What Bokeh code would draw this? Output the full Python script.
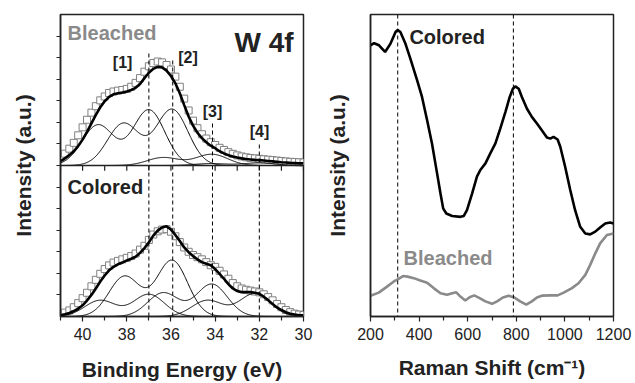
import numpy as np
from bokeh.plotting import figure
from bokeh.layouts import row
from bokeh.models import Range1d, FixedTicker, Label, Span
from bokeh.embed import file_html
from bokeh.resources import INLINE

FONT = "Liberation Sans"
INK = "#222222"
GREY = "#8a8a8a"

# ---------------- W 4f XPS ----------------
# binding energies of the measured points (eV)
energy = np.round(np.arange(41.0, 29.99, -0.2), 1)

bleached_data = [0.38, 0.55, 0.78, 1.05, 1.4, 1.77,
                 2.12, 2.45, 2.75, 3.02, 3.2, 3.36, 3.43, 3.47, 3.5, 3.55,
                 3.65, 3.83, 4.05, 4.35, 4.6, 4.75, 4.82, 4.78, 4.66, 4.45,
                 4.12, 3.65, 3.1, 2.55, 2.08, 1.73, 1.45, 1.25, 1.08, 0.95,
                 0.82, 0.72, 0.62, 0.54, 0.47, 0.42, 0.38, 0.35, 0.33, 0.31,
                 0.29, 0.27, 0.25, 0.23, 0.21, 0.19, 0.17, 0.16, 0.15, 0.14]
bleached_fit = [0.2, 0.33, 0.48, 0.66, 0.9, 1.2,
                1.56, 1.95, 2.35, 2.7, 2.98, 3.18, 3.3, 3.35, 3.38, 3.43,
                3.5, 3.6, 3.78, 4.05, 4.3, 4.48, 4.57, 4.55, 4.4, 4.15,
                3.81, 3.35, 2.8, 2.27, 1.85, 1.52, 1.27, 1.08, 0.92, 0.8,
                0.66, 0.56, 0.48, 0.42, 0.37, 0.33, 0.3, 0.28, 0.26, 0.25,
                0.23, 0.21, 0.19, 0.17, 0.15, 0.14, 0.12, 0.11, 0.1, 0.1]
colored_data = [0.12, 0.18, 0.28, 0.43, 0.62, 0.85,
                1.1, 1.4, 1.7, 1.98, 2.2, 2.37, 2.5, 2.58, 2.65, 2.72,
                2.8, 2.92, 3.1, 3.28, 3.55, 3.8, 3.95, 4.03, 4.05, 3.93,
                3.72, 3.45, 3.2, 3.0, 2.85, 2.75, 2.65, 2.52, 2.38, 2.3,
                2.12, 1.95, 1.75, 1.55, 1.4, 1.3, 1.24, 1.2, 1.16, 1.12,
                1.03, 0.9, 0.75, 0.58, 0.43, 0.3, 0.2, 0.13, 0.09, 0.07]
colored_fit = [0.06, 0.1, 0.16, 0.25, 0.36, 0.52,
               0.74, 1.0, 1.3, 1.62, 1.9, 2.14, 2.3, 2.42, 2.5, 2.6,
               2.68, 2.77, 2.95, 3.17, 3.44, 3.75, 3.98, 4.13, 4.18, 4.03,
               3.78, 3.5, 3.2, 2.98, 2.8, 2.65, 2.52, 2.45, 2.38, 2.2,
               1.98, 1.75, 1.5, 1.3, 1.18, 1.13, 1.13, 1.13, 1.1, 1.05,
               0.92, 0.76, 0.58, 0.42, 0.3, 0.2, 0.13, 0.09, 0.06, 0.05]

# fitted doublets: 4f7/2 and 4f5/2 position (eV), height, gaussian width
bleached_e72 = [35.95, 37.0, 34.15, 32.0]
bleached_h72 = [2.6, 2.58, 0.52, 0.12]
bleached_e52 = [38.15, 39.3, 36.35, 34.2]
bleached_h52 = [1.95, 1.88, 0.37, 0.09]
bleached_sigma = 0.72

colored_e72 = [35.95, 37.0, 34.15, 32.2]
colored_h72 = [2.6, 1.03, 1.5, 1.06]
colored_e52 = [38.1, 39.2, 36.35, 34.35]
colored_h52 = [1.86, 0.75, 1.1, 0.75]
colored_sigma = 0.70

# reference positions of the marked peaks [1]..[4]
mark_names = ["[1]", "[2]", "[3]", "[4]"]
mark_energy = [37.0, 35.92, 34.12, 32.0]
mark_top = [12.2, 12.0, 8.98, 8.06]
mark_label_x = [38.19, 35.23, 34.12, 31.99]
mark_label_y = [11.79, 12.02, 9.49, 8.56]

# the stacked panel: colored spectrum on 0..7, bleached spectrum on 7..14
OFFSET = 7.0

xps_major = [40, 38, 36, 34, 32, 30]
xps_minor = [41, 39, 37, 35, 33, 31]
intensity_ticks = [1, 2, 3, 4, 5, 6, 7, 8, 9, 10, 11, 12, 13]

# ---------------- Raman ----------------
raman_colored_x = [200, 215, 235, 260, 282, 303, 312, 323, 344, 364, 392, 412, 433, 453,
                   474, 488, 499, 512, 536, 570, 584, 597, 618, 638, 652, 673, 693, 714,
                   734, 755, 773, 786, 796, 810, 823, 844, 864, 885, 905, 926, 940, 953,
                   970, 981, 1001, 1022, 1042, 1063, 1084, 1104, 1125, 1145, 1166, 1186, 1200]
raman_colored_y = [89.8, 90.5, 89.8, 87.6, 90.3, 94.2, 94.9, 94.2, 90.3, 85.4, 78.2, 72.7,
                   65.0, 57.3, 47.4, 40.7, 35.8, 34.1, 33.3, 33.0, 33.3, 35.2, 40.7, 46.3,
                   48.5, 50.7, 54.0, 57.3, 62.2, 67.7, 72.7, 75.4, 76.2, 75.4, 72.7, 68.8,
                   66.1, 63.9, 61.7, 59.3, 58.9, 59.5, 58.6, 56.2, 49.6, 41.9, 35.2, 29.7,
                   27.5, 27.2, 28.1, 29.5, 30.8, 31.1, 30.8]
raman_bleached_x = [200, 234, 268, 296, 312, 334, 353, 378, 405, 433, 460, 488, 515, 536,
                    553, 570, 590, 608, 627, 649, 673, 700, 721, 745, 768, 789, 816, 841,
                    864, 885, 905, 940, 970, 995, 1029, 1056, 1084, 1104, 1125, 1145, 1173, 1200]
raman_bleached_y = [6.9, 7.9, 9.9, 11.6, 12.3, 13.4, 13.2, 12.7, 11.9, 11.2, 9.4, 7.7, 7.2,
                    7.7, 8.0, 6.6, 5.3, 6.4, 7.0, 6.1, 5.0, 4.2, 5.0, 6.3, 6.9, 6.4, 5.0,
                    3.9, 5.0, 6.3, 6.9, 7.0, 7.0, 7.9, 9.4, 11.0, 13.8, 17.1, 20.9, 24.2,
                    27.0, 27.5]
raman_marks = [312, 788]
raman_major = [200, 400, 600, 800, 1000, 1200]
raman_minor = [300, 500, 700, 900, 1100]


def style_axes(p):
    p.xgrid.visible = False
    p.ygrid.visible = False
    p.outline_line_color = INK
    p.outline_line_width = 1.5
    p.background_fill_color = "white"
    p.border_fill_color = "white"
    for ax in (p.xaxis[0], p.yaxis[0]):
        ax.axis_line_color = INK
        ax.axis_line_width = 1.5
        ax.major_tick_line_color = INK
        ax.minor_tick_line_color = INK
        ax.major_tick_line_width = 1.2
        ax.minor_tick_line_width = 1.2
        ax.major_tick_in = 0
        ax.minor_tick_in = 0
        ax.major_label_text_font = FONT
        ax.major_label_text_color = INK
        ax.axis_label_text_font = FONT
        ax.axis_label_text_font_style = "bold"
        ax.axis_label_text_font_size = "21px"
        ax.axis_label_text_color = INK


def doublet(e, c1, h1, c2, h2, s):
    return h1 * np.exp(-(e - c1) ** 2 / (2 * s * s)) + h2 * np.exp(-(e - c2) ** 2 / (2 * s * s))


# ---------------- left panel ----------------
left = figure(width=320, height=383, x_range=Range1d(41, 30), y_range=Range1d(0, 14),
              output_backend="svg", toolbar_location=None,
              min_border_left=60, min_border_right=17, min_border_top=14, min_border_bottom=65)
style_axes(left)

xa = left.xaxis[0]
xa.ticker = FixedTicker(ticks=xps_major, minor_ticks=xps_minor)
xa.major_tick_out = 5
xa.minor_tick_out = 4
xa.major_label_text_font_size = "16px"
xa.major_label_standoff = 6
xa.axis_label = "Binding Energy (eV)"
xa.axis_label_standoff = 15

# unlabelled intensity scale: only (label-free) minor ticks
ya = left.yaxis[0]
ya.ticker = FixedTicker(ticks=[], minor_ticks=intensity_ticks)
ya.major_tick_out = 0
ya.minor_tick_out = 4
ya.major_label_standoff = 0
ya.axis_label = "Intensity (a.u.)"
ya.axis_label_standoff = 22

# divider between the two spectra, with its own downward ticks
left.add_layout(Span(location=OFFSET, dimension="width", line_color=INK, line_width=1.5))
tick_x = xps_major + xps_minor
left.segment(x0=tick_x, x1=tick_x, y0=[OFFSET] * len(tick_x),
             y1=[OFFSET - 0.24] * len(tick_x), line_color=INK, line_width=1.2)

# measured points
left.scatter(energy, np.array(bleached_data) + OFFSET, marker="square", size=7,
             line_color="#808080", fill_color="white", line_width=1)
left.scatter(energy, colored_data, marker="square", size=7,
             line_color="#808080", fill_color="white", line_width=1)

# fitted components
e_fine = np.linspace(30, 41, 441)
for c1, h1, c2, h2 in zip(bleached_e72, bleached_h72, bleached_e52, bleached_h52):
    left.line(e_fine, doublet(e_fine, c1, h1, c2, h2, bleached_sigma) + OFFSET,
              line_color="black", line_width=1)
for c1, h1, c2, h2 in zip(colored_e72, colored_h72, colored_e52, colored_h52):
    left.line(e_fine, doublet(e_fine, c1, h1, c2, h2, colored_sigma),
              line_color="black", line_width=1)

# envelopes
left.line(energy, np.array(bleached_fit) + OFFSET, line_color="black", line_width=2.6)
left.line(energy, colored_fit, line_color="black", line_width=2.6)

# peak markers
left.segment(x0=mark_energy, x1=mark_energy, y0=[0] * 4, y1=mark_top,
             line_color="black", line_width=1, line_dash="4 3")
for name, lx, ly in zip(mark_names, mark_label_x, mark_label_y):
    left.add_layout(Label(x=lx, y=ly, text=name, text_font=FONT, text_font_size="16px",
                          text_font_style="bold", text_align="center",
                          text_baseline="middle", text_color=INK))

left.add_layout(Label(x=40.68, y=13.12, text="Bleached", text_font=FONT,
                      text_font_size="20px", text_font_style="bold",
                      text_baseline="middle", text_color=GREY))
left.add_layout(Label(x=40.68, y=5.99, text="Colored", text_font=FONT,
                      text_font_size="20px", text_font_style="bold",
                      text_baseline="middle", text_color=INK))
left.add_layout(Label(x=30.45, y=12.72, text="W 4f", text_font=FONT,
                      text_font_size="28px", text_font_style="bold", text_align="right",
                      text_baseline="middle", text_color=INK))

# ---------------- right panel ----------------
right = figure(width=315, height=383, x_range=Range1d(200, 1200), y_range=Range1d(0, 100),
               output_backend="svg", toolbar_location=None,
               min_border_left=50, min_border_right=22, min_border_top=14, min_border_bottom=66)
style_axes(right)

rx = right.xaxis[0]
rx.ticker = FixedTicker(ticks=raman_major, minor_ticks=raman_minor)
rx.major_tick_out = 5
rx.minor_tick_out = 4
rx.major_label_text_font_size = "16px"
rx.major_label_standoff = 6
rx.axis_label = "Raman Shift (cm\u207b\u00b9)"
rx.axis_label_standoff = 13

ry = right.yaxis[0]
ry.ticker = FixedTicker(ticks=[])
ry.major_tick_out = 0
ry.minor_tick_out = 0
ry.major_label_standoff = 0
ry.axis_label = "Intensity (a.u.)"
ry.axis_label_standoff = 22

for m in raman_marks:
    right.add_layout(Span(location=m, dimension="height", line_color="black",
                          line_width=1, line_dash="4 3"))

right.line(raman_colored_x, raman_colored_y, line_color="black", line_width=2.6)
right.line(raman_bleached_x, raman_bleached_y, line_color=GREY, line_width=2.6)

right.add_layout(Label(x=360, y=92.7, text="Colored", text_font=FONT,
                       text_font_size="20px", text_font_style="bold",
                       text_baseline="middle", text_color=INK))
right.add_layout(Label(x=336, y=19.5, text="Bleached", text_font=FONT,
                       text_font_size="20px", text_font_style="bold",
                       text_baseline="middle", text_color=GREY))

layout = row(left, right)
open("out.html", "w").write(file_html(layout, INLINE))
